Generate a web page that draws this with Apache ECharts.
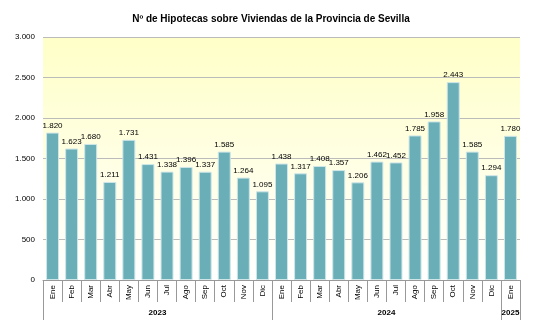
<!DOCTYPE html>
<html><head><meta charset="utf-8">
<script src="https://cdn.jsdelivr.net/npm/echarts@6/dist/echarts.min.js"></script>
<style>html,body{margin:0;padding:0;background:#fff}#c{width:542px;height:330px}</style>
</head><body><div id="c"></div>
<script>
const months = ['Ene','Feb','Mar','Abr','May','Jun','Jul','Ago','Sep','Oct','Nov','Dic','Ene','Feb','Mar','Abr','May','Jun','Jul','Ago','Sep','Oct','Nov','Dic','Ene'];
const years = ['2023','2024','2025'];
const yearMonths = [12, 12, 1];
const values = [1820,1623,1680,1211,1731,1431,1338,1396,1337,1585,1264,1095,1438,1317,1408,1357,1206,1462,1452,1785,1958,2443,1585,1294,1780];
const yTicks = [0,500,1000,1500,2000,2500,3000];

function fmt(v){ return String(v).replace(/\B(?=(\d{3})+(?!\d))/g,'.'); }

// half-month points for year axis
const nHalf = months.length*2 + 1;
const halfCats = [];
const yearLabelAt = {};
const yearBoundAt = new Set([0]);
let start = 0;
years.forEach((y,i)=>{
  const center = start + yearMonths[i]; // in half units
  yearLabelAt[center] = y;
  start += yearMonths[i]*2;
  yearBoundAt.add(start);
});
for(let k=0;k<nHalf;k++) halfCats.push(yearLabelAt[k] || '');

const chart = echarts.init(document.getElementById('c'));
chart.setOption({
  animation:false,
  title:{text:'Nº de Hipotecas sobre Viviendas de la Provincia de Sevilla',left:'center',top:9,
    textStyle:{fontFamily:'Liberation Sans',fontSize:10,fontWeight:'bold',color:'#000'}},
  grid:{left:43,right:22,top:37,bottom:50,show:true,borderWidth:0,
    backgroundColor:new echarts.graphic.LinearGradient(0,0,0,1,[{offset:0,color:'#FFFFC8'},{offset:0.55,color:'#FFFFE6'},{offset:1,color:'#FFFFFF'}])},
  xAxis:[{
    type:'category',data:months,boundaryGap:true,
    axisLine:{lineStyle:{color:'#999',width:1}},
    axisTick:{show:true,length:22,interval:0,lineStyle:{color:'#999'}},
    axisLabel:{rotate:90,interval:0,fontSize:8,fontFamily:'Liberation Sans',color:'#000',margin:5}
  },{
    type:'category',data:halfCats,boundaryGap:false,position:'bottom',
    axisLine:{show:false},
    axisTick:{show:true,length:40,interval:(i)=>yearBoundAt.has(i),lineStyle:{color:'#999'}},
    axisLabel:{interval:(i)=>halfCats[i]!=='',fontSize:8,fontWeight:'bold',fontFamily:'Liberation Sans',color:'#000',margin:29}
  }],
  yAxis:{type:'value',min:yTicks[0],max:yTicks[yTicks.length-1],interval:500,
    axisLine:{show:false},axisTick:{show:false},
    splitLine:{lineStyle:{color:'#BBBBBB',width:1}},
    axisLabel:{formatter:fmt,fontSize:8,fontFamily:'Liberation Sans',color:'#000',margin:8}},
  series:[{
    type:'bar',data:values,xAxisIndex:0,barCategoryGap:'32%',
    itemStyle:{color:'#6AAFB8',borderColor:'#CFE6E8',borderWidth:1},
    label:{show:true,position:'top',formatter:(p)=>fmt(p.value),fontSize:8,fontFamily:'Liberation Sans',color:'#000',distance:3}
  }]
});
</script></body></html>
